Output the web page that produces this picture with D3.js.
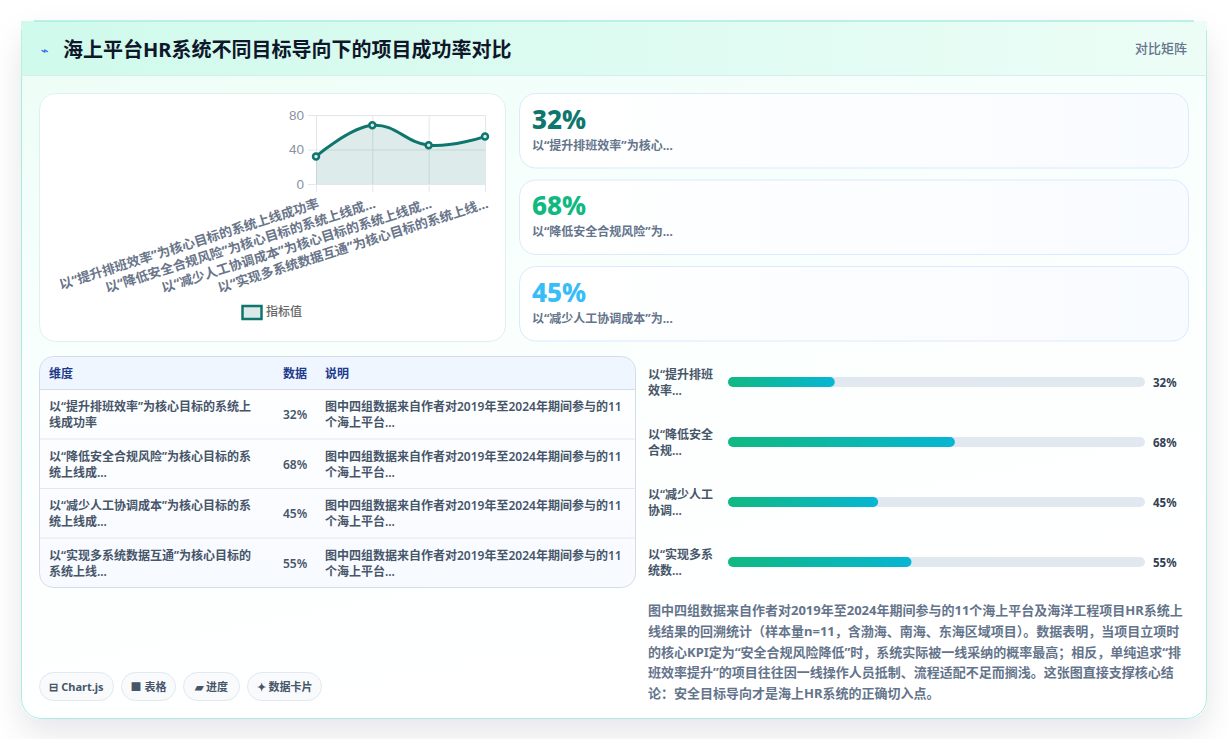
<!DOCTYPE html>
<html lang="zh-CN">
<head>
<meta charset="utf-8">
<title>海上平台HR系统不同目标导向下的项目成功率对比</title>
<script src="https://cdn.jsdelivr.net/npm/d3@7"></script>
<style>
html,body{margin:0;padding:0;background:#fff;overflow:hidden}
svg{display:block}
text{font-family:"Noto Sans","Noto Sans CJK SC",sans-serif}
.axis text{font-family:"Liberation Sans",Arial,"Noto Sans CJK SC",sans-serif}
</style>
</head>
<body>
<div id="app"></div>
<script>
// Dataset: project success rate by the system's target orientation
const fullLabels = ["以“提升排班效率”为核心目标的系统上线成功率","以“降低安全合规风险”为核心目标的系统上线成...","以“减少人工协调成本”为核心目标的系统上线成...","以“实现多系统数据互通”为核心目标的系统上线..."];
const values = [32, 68, 45, 55];
const yTicks = [0, 40, 80];
const statValues = ["32%", "68%", "45%"];
const statLabels = ["以“提升排班效率”为核心...", "以“降低安全合规风险”为...", "以“减少人工协调成本”为..."];
const statColors = ["#0f766e", "#10b981", "#38bdf8"];
const tableHead = ["维度", "数据", "说明"];
const tableDims = [
  ["以“提升排班效率”为核心目标的系统上", "线成功率"],
  ["以“降低安全合规风险”为核心目标的系", "统上线成..."],
  ["以“减少人工协调成本”为核心目标的系", "统上线成..."],
  ["以“实现多系统数据互通”为核心目标的", "系统上线..."]
];
const tableNote = ["图中四组数据来自作者对2019年至2024年期间参与的11", "个海上平台..."];
const barLabels = [["以“提升排班", "效率..."], ["以“降低安全", "合规..."], ["以“减少人工", "协调..."], ["以“实现多系", "统数..."]];
const paragraph = [
  "图中四组数据来自作者对2019年至2024年期间参与的11个海上平台及海洋工程项目HR系统上",
  "线结果的回溯统计（样本量n=11，含渤海、南海、东海区域项目）。数据表明，当项目立项时",
  "的核心KPI定为“安全合规风险降低”时，系统实际被一线采纳的概率最高；相反，单纯追求“排",
  "班效率提升”的项目往往因一线操作人员抵制、流程适配不足而搁浅。这张图直接支撑核心结",
  "论：安全目标导向才是海上HR系统的正确切入点。"
];
const chips = ["⊟ Chart.js", "■ 表格", "▰ 进度", "✦ 数据卡片"];
const titleText = "海上平台HR系统不同目标导向下的项目成功率对比";
const seriesName = "指标值";

const W = 1228, H = 741;
const svg = d3.select("#app").append("svg").attr("width", W).attr("height", H).attr("viewBox", [0, 0, W, H]);
const defs = svg.append("defs");

function gradient(id, stops, x2 = 1, y2 = 0) {
  const g = defs.append("linearGradient").attr("id", id)
    .attr("x1", 0).attr("y1", 0).attr("x2", x2).attr("y2", y2);
  stops.forEach(([o, c]) => g.append("stop").attr("offset", o).attr("stop-color", c));
}
gradient("cardBg", [[0, "#ebfdf5"], [0.35, "#f6fffc"], [0.6, "#fbfffe"], [1, "#ffffff"]], 0.35, 1);
gradient("headBg", [[0, "#cffaec"], [1, "#ecfdf6"]]);
gradient("statBg", [[0, "#ffffff"], [1, "#f8fbff"]]);
gradient("tableBg", [[0, "#ffffff"], [1, "#f7faff"]], 0, 1);
gradient("barFill", [[0, "#10b981"], [1, "#06b6d4"]]);
defs.append("filter").attr("id", "cardShadow")
  .attr("x", "-10%").attr("y", "-10%").attr("width", "120%").attr("height", "125%")
  .append("feDropShadow").attr("dx", 0).attr("dy", 14).attr("stdDeviation", 16)
  .attr("flood-color", "#0f172a").attr("flood-opacity", 0.1);
defs.append("clipPath").attr("id", "pageClip").append("rect").attr("width", W).attr("height", 739);
defs.append("clipPath").attr("id", "tableClip").append("rect")
  .attr("x", 40).attr("y", 357).attr("width", 595).attr("height", 230).attr("rx", 14);

// Outer card
svg.append("g").attr("clip-path", "url(#pageClip)").append("rect")
  .attr("x", 21).attr("y", 21).attr("width", 1186).attr("height", 698).attr("rx", 20)
  .attr("fill", "#fff").attr("filter", "url(#cardShadow)");
svg.append("rect").attr("x", 21.5).attr("y", 21.5).attr("width", 1185).attr("height", 697).attr("rx", 20)
  .attr("fill", "url(#cardBg)").attr("stroke", "#a9ece2");

// Header band
svg.append("rect").attr("x", 21).attr("y", 21).attr("width", 1186).attr("height", 54).attr("fill", "url(#headBg)");
svg.append("line").attr("x1", 34).attr("x2", 1194).attr("y1", 21).attr("y2", 21).attr("stroke", "#a9ece2").attr("stroke-width", 1.5);
svg.append("line").attr("x1", 21).attr("x2", 1207).attr("y1", 75.5).attr("y2", 75.5).attr("stroke", "#d5eef2");
svg.append("line").attr("x1", 21.5).attr("x2", 21.5).attr("y1", 30).attr("y2", 75).attr("stroke", "#b5f0e4");
svg.append("line").attr("x1", 1206.5).attr("x2", 1206.5).attr("y1", 30).attr("y2", 75).attr("stroke", "#b5f0e4");
svg.append("text").attr("x", 41).attr("y", 55).attr("font-size", 13).attr("font-weight", 700)
  .attr("fill", "#2563eb").style("font-family", "'DejaVu Sans'").text("⌁");
svg.append("text").attr("x", 63).attr("y", 57).attr("font-size", 20).attr("font-weight", 700)
  .attr("fill", "#0f172a").text(titleText);
svg.append("text").attr("x", 1187).attr("y", 53).attr("text-anchor", "end").attr("font-size", 13)
  .attr("font-weight", 500).attr("fill", "#64748b").text("对比矩阵");

// Line chart panel
svg.append("rect").attr("x", 39.5).attr("y", 93.5).attr("width", 466).attr("height", 248).attr("rx", 16)
  .attr("fill", "#fff").attr("stroke", "#dff1ee");

const x = d3.scalePoint().domain(d3.range(values.length)).range([316, 485]);
const y = d3.scaleLinear().domain([0, 80]).range([184, 115]);
const plot = svg.append("g");
const gridColor = "#e3e6ea";

const yAxis = d3.axisLeft(y).tickValues(yTicks).tickSize(169 + 8).tickPadding(4);
const yG = plot.append("g").attr("class", "axis").attr("transform", "translate(485,0)").call(yAxis);
yG.select(".domain").remove();
yG.selectAll("line").attr("stroke", gridColor);
yG.selectAll("text").attr("font-size", 13.5).attr("fill", "#8a92a2");

const xAxis = d3.axisBottom(x).tickSize(77).tickFormat(i => fullLabels[i]);
const xG = plot.append("g").attr("class", "axis").attr("transform", "translate(0,115)").call(xAxis);
xG.select(".domain").remove();
xG.selectAll("line").attr("stroke", gridColor);
xG.selectAll("text")
  .attr("text-anchor", "end")
  .attr("dy", "0.35em")
  .attr("y", 0)
  .attr("transform", "translate(2,88) rotate(-17.6)")
  .attr("font-size", 13)
  .attr("font-weight", 700)
  .style("font-family", "'Noto Sans','Noto Sans CJK SC',sans-serif")
  .attr("fill", "#697589");

const curve = d3.curveCardinal.tension(-0.2);
plot.append("path").datum(values)
  .attr("d", d3.area().x((d, i) => x(i)).y0(y(0)).y1(d => y(d)).curve(curve))
  .attr("fill", "#0f766e").attr("fill-opacity", 0.14);
plot.append("path").datum(values)
  .attr("d", d3.line().x((d, i) => x(i)).y(d => y(d)).curve(curve))
  .attr("fill", "none").attr("stroke", "#0f766e").attr("stroke-width", 3);
plot.selectAll("circle.pt").data(values).join("circle").attr("class", "pt")
  .attr("cx", (d, i) => x(i)).attr("cy", d => y(d)).attr("r", 3)
  .attr("fill", "#dbe9e8").attr("stroke", "#0f766e").attr("stroke-width", 2.5);

// Legend
svg.append("rect").attr("x", 242.5).attr("y", 306).attr("width", 19).attr("height", 13)
  .attr("fill", "#dbe9e8").attr("stroke", "#0f766e").attr("stroke-width", 2.5);
svg.append("text").attr("x", 266).attr("y", 316).attr("font-size", 12).attr("font-weight", 500)
  .attr("fill", "#666").text(seriesName);

// Stat cards
const statTops = d3.scalePoint().domain(d3.range(statValues.length)).range([93.5, 266.5]);
const stats = svg.selectAll("g.stat").data(statValues).join("g").attr("class", "stat")
  .attr("transform", (d, i) => `translate(519.5,${statTops(i)})`);
stats.append("rect").attr("width", 669).attr("height", 74.5).attr("rx", 16)
  .attr("fill", "url(#statBg)").attr("stroke", "#dbeafe");
stats.append("text").attr("x", 12.5).attr("y", 35).attr("font-size", 26).attr("font-weight", 800)
  .attr("fill", (d, i) => statColors[i]).text(d => d);
stats.append("text").attr("x", 12.5).attr("y", 56).attr("font-size", 12).attr("font-weight", 700)
  .attr("fill", "#64748b").text((d, i) => statLabels[i]);

// Comparison table
const tableTop = 389, rowH = 49.5;
svg.append("rect").attr("x", 40).attr("y", 357).attr("width", 595).attr("height", 230).attr("rx", 14).attr("fill", "url(#tableBg)");
svg.append("rect").attr("x", 40).attr("y", 357).attr("width", 595).attr("height", 32)
  .attr("fill", "#eff6ff").attr("clip-path", "url(#tableClip)");
svg.append("rect").attr("x", 39.5).attr("y", 356.5).attr("width", 596).attr("height", 231).attr("rx", 14)
  .attr("fill", "none").attr("stroke", "#d4dce8");
const colX = [49, 283, 325];
svg.selectAll("text.th").data(tableHead).join("text").attr("class", "th")
  .attr("x", (d, i) => colX[i]).attr("y", 378).attr("font-size", 12).attr("font-weight", 700)
  .attr("fill", "#1e3a8a").text(d => d);
svg.selectAll("line.rule").data(d3.range(values.length)).join("line").attr("class", "rule")
  .attr("x1", 40).attr("x2", 635)
  .attr("y1", i => tableTop + i * rowH + 0.5).attr("y2", i => tableTop + i * rowH + 0.5)
  .attr("stroke", (d, i) => i ? "#e2e8f0" : "#d4dce8");
const rows = svg.selectAll("g.row").data(values).join("g").attr("class", "row")
  .attr("transform", (d, i) => `translate(0,${tableTop + i * rowH})`);
rows.each(function (d, i) {
  const r = d3.select(this);
  tableDims[i].forEach((t, k) => r.append("text").attr("x", colX[0]).attr("y", 22 + k * 16)
    .attr("font-size", 12).attr("font-weight", 600).attr("fill", "#475569").text(t));
  r.append("text").attr("x", colX[1]).attr("y", 30).attr("font-size", 12).attr("font-weight", 600)
    .attr("fill", "#475569").text(d + "%");
  tableNote.forEach((t, k) => r.append("text").attr("x", colX[2]).attr("y", 22 + k * 16)
    .attr("font-size", 12).attr("font-weight", 600).attr("fill", "#475569").text(t));
});

// Progress bars
const barX = d3.scaleLinear().domain([0, 125]).range([728, 1145]);
const barY = d3.scalePoint().domain(d3.range(values.length)).range([377, 557]);
const bars = svg.selectAll("g.bar").data(values).join("g").attr("class", "bar")
  .attr("transform", (d, i) => `translate(0,${barY(i)})`);
bars.append("rect").attr("x", barX(0)).attr("width", barX.range()[1] - barX(0)).attr("height", 10).attr("rx", 5).attr("fill", "#e2e8f0");
bars.append("rect").attr("x", barX(0)).attr("width", d => barX(d) - barX(0)).attr("height", 10).attr("rx", 5).attr("fill", "url(#barFill)");
bars.append("text").attr("x", 1153).attr("y", 10).attr("font-size", 11.5).attr("font-weight", 700)
  .attr("fill", "#334155").text(d => d + "%");
bars.each(function (d, i) {
  barLabels[i].forEach((t, k) => d3.select(this).append("text").attr("x", 648).attr("y", 2 + k * 16)
    .attr("font-size", 12).attr("font-weight", 600).attr("fill", "#475569").text(t));
});

// Explanatory paragraph
svg.selectAll("text.para").data(paragraph).join("text").attr("class", "para")
  .attr("x", 648).attr("y", (d, i) => 615 + i * 20.8).attr("font-size", 13).attr("font-weight", 700)
  .attr("fill", "#64748b").text(d => d);

// Footer chips
const chipBox = [[39, 74], [121, 54], [183, 56], [247, 74]];
const chipG = svg.selectAll("g.chip").data(chips).join("g").attr("class", "chip")
  .attr("transform", (d, i) => `translate(${chipBox[i][0] + 0.5},672.5)`);
chipG.append("rect").attr("width", (d, i) => chipBox[i][1]).attr("height", 28).attr("rx", 14)
  .attr("fill", "#f8fafc").attr("stroke", "#e2e8f0");
chipG.append("text").attr("x", (d, i) => chipBox[i][1] / 2).attr("y", 18.5).attr("text-anchor", "middle")
  .attr("font-size", 11).attr("font-weight", 700).attr("fill", "#475569").text(d => d);
</script>
</body>
</html>
